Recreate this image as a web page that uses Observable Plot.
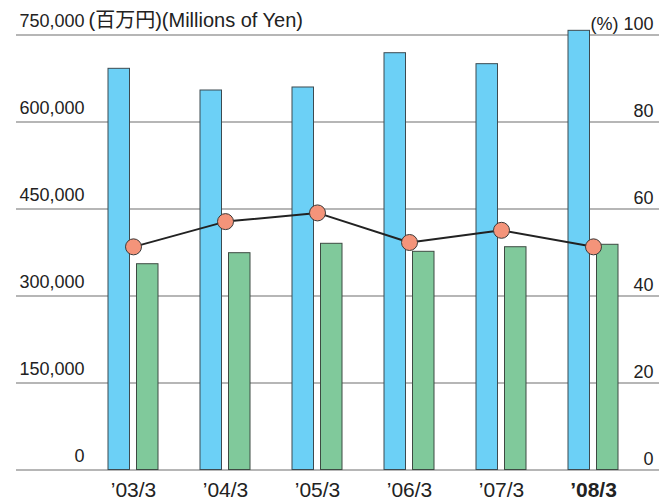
<!DOCTYPE html>
<html><head><meta charset="utf-8">
<script src="https://cdn.jsdelivr.net/npm/d3@7"></script>
<script src="https://cdn.jsdelivr.net/npm/@observablehq/plot@0.6"></script>
<style>html,body{margin:0;padding:0;background:#fff;overflow:hidden} svg{display:block}</style>
</head><body><div id="chart"></div>
<script>
const categories = ["’03/3", "’04/3", "’05/3", "’06/3", "’07/3", "’08/3"];
const blueValues = [691700, 654300, 659500, 718600, 699700, 757200];
const greenValues = [354800, 373800, 390000, 376200, 384100, 388300];
const ratioPercent = [51.3, 57.1, 59.1, 52.3, 55.1, 51.3];
const leftTicks = [0, 150000, 300000, 450000, 600000, 750000];
const rightTicks = [0, 20, 40, 60, 80, 100];
const unitLabel = "(百万円)(Millions of Yen)";
const percentLabel = "(%)";

const PCT = 7500; // 100% on the right axis lines up with 750,000 on the left
const rows = categories.map((c, i) => ({cat: c, blue: blueValues[i], green: greenValues[i], pct: ratioPercent[i]}));
const fmt = d3.format(",");
const W = 659, H = 501;
const FONT = "'Liberation Sans', Arial, 'Noto Sans CJK JP', sans-serif";

const chart = Plot.plot({
  width: W,
  height: H,
  marginLeft: 16,
  marginRight: 0,
  marginTop: 34.5,
  marginBottom: 31.5,
  style: {fontFamily: FONT, fontSize: "18px", background: "#fff", color: "#222", overflow: "visible"},
  x: {type: "band", domain: categories, range: [86.6, 639.3], padding: 0},
  y: {domain: [0, 750000], range: [469.5, 34.5]},
  marks: [
    Plot.ruleY(leftTicks, {stroke: "#6e6e6e", strokeWidth: 1.2}),
    Plot.barY(rows, {x: "cat", y: "blue", fill: "#6cd0f6", stroke: "#3d4a50", strokeWidth: 1, insetLeft: 21, insetRight: 49.5}),
    Plot.barY(rows, {x: "cat", y: "green", fill: "#80c99b", stroke: "#3d4a42", strokeWidth: 1, insetLeft: 49.5, insetRight: 21}),
    Plot.line(rows, {x: "cat", y: d => d.pct * PCT, stroke: "#222", strokeWidth: 2}),
    Plot.dot(rows, {x: "cat", y: d => d.pct * PCT, r: 8, fill: "#f4947a", stroke: "#3a3a3a", strokeWidth: 1}),
    Plot.axisY({anchor: "left", label: null, ticks: leftTicks, tickFormat: fmt, tickSize: 0, tickPadding: 0, dx: 68, dy: -8, textAnchor: "end", lineAnchor: "bottom", fill: "#222", fontSize: 18}),
    Plot.text([{y: 750000, t: unitLabel}], {y: "y", text: "t", frameAnchor: "left", textAnchor: "start", lineAnchor: "bottom", dx: 72, dy: -8, fontSize: 20, fill: "#222"}),
    Plot.axisY({anchor: "right", label: null, ticks: rightTicks.map(p => p * PCT), tickFormat: d => (d / PCT === 100 ? percentLabel + " " : "") + (d / PCT), tickSize: 0, tickPadding: 0, dx: -6, dy: -5, textAnchor: "end", lineAnchor: "bottom", fill: "#222", fontSize: 18}),
    Plot.axisX({label: null, ticks: categories.slice(0, 5), tickSize: 0, tickPadding: 12.5, fontSize: 21, fill: "#222"}),
    Plot.axisX({label: null, ticks: categories.slice(5), tickSize: 0, tickPadding: 12.5, fontSize: 21, fontWeight: "bold", fill: "#222"})
  ]
});
document.getElementById("chart").appendChild(chart);
</script>
</body></html>
